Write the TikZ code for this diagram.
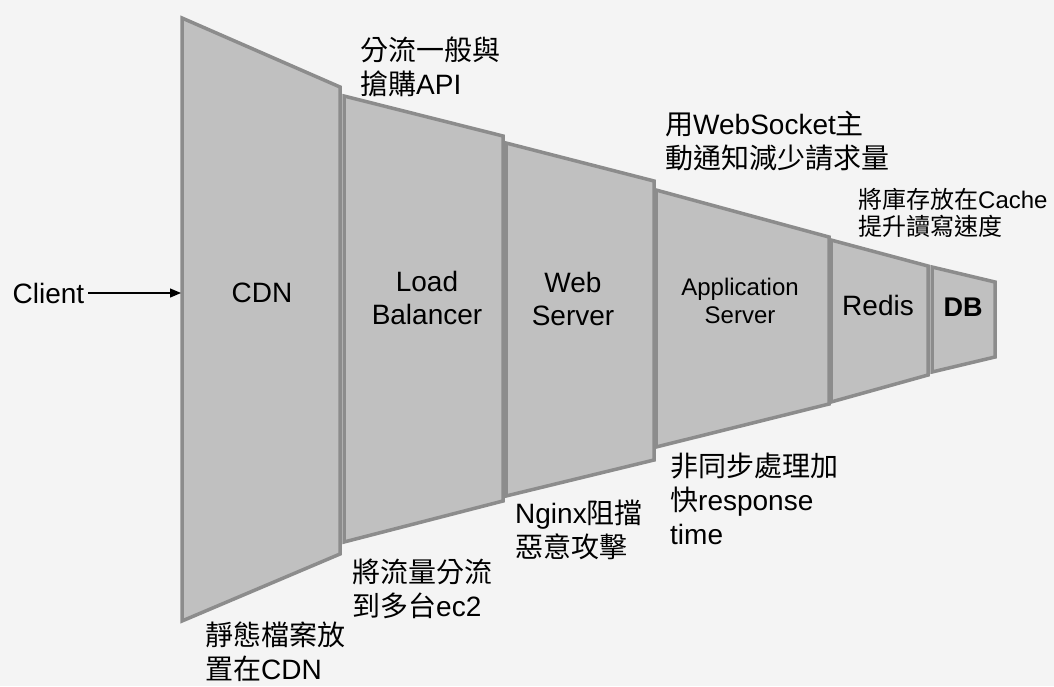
\documentclass[tikz,border=0pt]{standalone}
\usepackage{fontspec}
\setmainfont{Liberation Sans}
\newfontfamily\cjk{Noto Sans CJK TC}
\usetikzlibrary{arrows.meta}
\definecolor{bg}{HTML}{F4F4F4}
\definecolor{tfill}{HTML}{C0C0C0}
\definecolor{tline}{HTML}{8C8C8C}
\begin{document}
\begin{tikzpicture}[x=1pt,y=-1pt,
  trap/.style={fill=tfill,draw=tline,line width=3.5pt,line join=miter},
  lbl/.style={font=\fontsize{28}{33}\selectfont,align=center,inner sep=0pt},
  lblsm/.style={font=\fontsize{24}{28}\selectfont,align=center,inner sep=0pt},
  note/.style={font=\fontsize{28}{34}\selectfont,align=left,anchor=west,inner sep=0pt},
  notesm/.style={font=\fontsize{24}{27}\selectfont,align=left,anchor=west,inner sep=0pt},
  arr/.style={-{Triangle[length=11pt,width=9pt]},line width=1.3pt,black}]
\fill[bg] (0,0) rectangle (1054,686);
\useasboundingbox (0,0) rectangle (1054,686);
% funnel segments
\draw[trap] (182,18) -- (340,87) -- (340,554) -- (182,621) -- cycle;
\draw[trap] (344,96) -- (503,136) -- (503,501) -- (344,542) -- cycle;
\draw[trap] (506,143) -- (654,181) -- (654,460) -- (506,496) -- cycle;
\draw[trap] (656,190) -- (829,237) -- (829,404) -- (656,447) -- cycle;
\draw[trap] (831,240) -- (928,266) -- (928,375) -- (831,402) -- cycle;
\draw[trap] (932,267) -- (995,282) -- (995,357) -- (932,372) -- cycle;
% segment labels
\node[lbl] (cdn) at (262,293) {CDN};
\node[lbl] (lb) at (427,297.5) {Load\\Balancer};
\node[lbl] (web) at (573,298.5) {Web\\Server};
\node[lblsm] (app) at (740,301) {Application\\Server};
\node[lbl] (redis) at (878,305) {Redis};
\node[lbl,font=\fontsize{27}{33}\selectfont\bfseries] (db) at (963,307) {DB};
% client
\node[lbl] (client) at (48.5,293) {Client};
\coordinate (cdnin) at (181,293);
\draw[arr] ([xshift=4pt]client.east) -- (cdnin);
% notes
\node[note] (n1) at (360,66.5) {{\cjk 分流一般與}\\{\cjk 搶購}API};
\node[note] (n2) at (665,141.5) {{\cjk 用}WebSocket{\cjk 主}\\{\cjk 動通知減少請求量}};
\node[notesm] (n3) at (858,212.5) {{\cjk 將庫存放在}Cache\\{\cjk 提升讀寫速度}};
\node[note] (n4) at (205,652) {{\cjk 靜態檔案放}\\{\cjk 置在}CDN};
\node[note] (n5) at (352,588.5) {{\cjk 將流量分流}\\{\cjk 到多台}ec2};
\node[note] (n6) at (515,530) {Nginx{\cjk 阻擋}\\{\cjk 惡意攻擊}};
\node[note] (n7) at (670,498.5) {{\cjk 非同步處理加}\\{\cjk 快}response\\time};
\end{tikzpicture}
\end{document}
